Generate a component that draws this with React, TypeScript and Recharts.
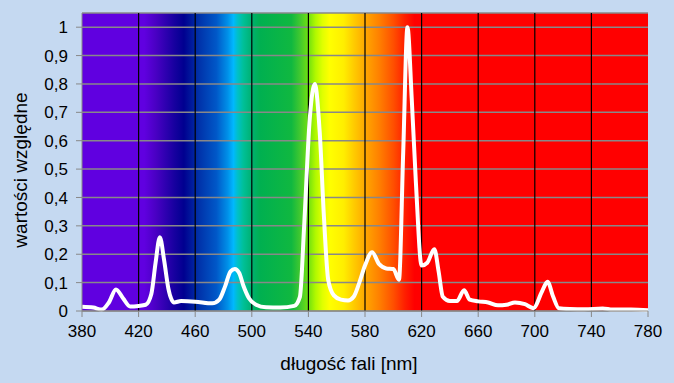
import { CartesianGrid, Line, LineChart, ReferenceLine, XAxis, YAxis } from "recharts";

const wavelengths = [
  380, 388, 394, 399, 404, 409, 414, 420, 425, 429, 432, 435, 438, 441, 445, 450, 460, 472, 477, 481,
  485, 488, 491, 494, 498, 503, 510, 520, 530, 534, 537, 541, 544.5, 548, 551, 554, 558, 563, 568, 572,
  576, 580, 585, 590, 595, 600, 604, 607, 610, 613, 616, 620, 624, 629, 632, 635, 640, 645, 650, 654,
  660, 667, 674, 680, 686, 693, 699, 705, 709, 713, 717, 725, 735, 748, 755, 768, 780,
];
const intensity = [
  0.015, 0.012, 0.005, 0.03, 0.076, 0.045, 0.016, 0.018, 0.022, 0.06, 0.17, 0.26, 0.18, 0.08, 0.03, 0.035,
  0.033, 0.027, 0.04, 0.085, 0.14, 0.148, 0.135, 0.09, 0.045, 0.022, 0.013, 0.012, 0.018, 0.05, 0.3, 0.68,
  0.8, 0.63, 0.33, 0.11, 0.055, 0.04, 0.037, 0.05, 0.1, 0.16, 0.207, 0.165, 0.15, 0.148, 0.11, 0.56, 1.0,
  0.75, 0.45, 0.16, 0.17, 0.218, 0.14, 0.05, 0.035, 0.035, 0.073, 0.04, 0.034, 0.03, 0.02, 0.022, 0.03,
  0.024, 0.01, 0.068, 0.103, 0.05, 0.01, 0.007, 0.006, 0.009, 0.005, 0.005, 0.003,
];
const xTicks = [380, 420, 460, 500, 540, 580, 620, 660, 700, 740, 780];
const yTicks = [0, 0.1, 0.2, 0.3, 0.4, 0.5, 0.6, 0.7, 0.8, 0.9, 1];
const gridX = [420, 460, 500, 540, 580, 620, 660, 700, 740];

// spectrum colours behind the plot, [nm, colour]
const spectrum: [number, string][] = [
  [380, "#6000e0"], [424, "#6000e0"], [432, "#4a00c4"], [445, "#1800a0"], [452, "#000090"],
  [462, "#0030a8"], [475, "#0058c8"], [483, "#0090e8"], [487, "#00b8ff"], [490, "#00c0c8"],
  [494, "#00c098"], [500, "#00b070"], [506, "#00b050"], [528, "#10b840"], [534, "#40c830"],
  [540, "#70e010"], [545, "#b0f800"], [550, "#e0ff00"], [555, "#ffff00"], [565, "#ffee00"],
  [572, "#ffcc00"], [580, "#ffa800"], [590, "#ff8000"], [600, "#ff5000"], [608, "#ff2000"],
  [615, "#ff0000"], [780, "#ff0000"],
];

const data = wavelengths.map((nm, i) => ({ nm, v: intensity[i] }));
const family = "Liberation Sans, Arial, sans-serif";
const tickFont = { fontFamily: family, fontSize: 17, fill: "#000" };

export default function App() {
  return (
    <div style={{ width: 674, height: 383, background: "#c5d9f1" }}>
      <style>{`body{margin:0}`}</style>
      <LineChart width={674} height={383} data={data} margin={{ top: 13, right: 26, left: 0, bottom: 0 }}>
        <defs>
          <linearGradient id="spec" x1="0" y1="0" x2="1" y2="0">
            {spectrum.map(([nm, c]) => (
              <stop key={nm} offset={(nm - 380) / 400} stopColor={c} />
            ))}
          </linearGradient>
        </defs>
        <CartesianGrid vertical={false} stroke="#888" strokeWidth={1.5} fill="url(#spec)" fillOpacity={1} />
        {gridX.map((x) => (
          <ReferenceLine key={x} x={x} stroke="#000" strokeWidth={1.2} />
        ))}
        <XAxis
          dataKey="nm"
          type="number"
          domain={[380, 780]}
          ticks={xTicks}
          height={72}
          stroke="#888"
          tickSize={6}
          tickMargin={8}
          tick={tickFont}
          label={{
            content: () => (
              <text x={349} y={370} textAnchor="middle" fontFamily={family} fontSize={19} fill="#000">
                długość fali [nm]
              </text>
            ),
          }}
        />
        <YAxis
          type="number"
          domain={[0, 1.05]}
          ticks={yTicks}
          width={82}
          stroke="#888"
          tickSize={6}
          tickMargin={8}
          tick={tickFont}
          tickFormatter={(v: number) => String(v).replace(".", ",")}
          label={{
            content: () => (
              <text x={27} y={170} transform="rotate(-90 27 170)" textAnchor="middle" fontFamily={family} fontSize={19} fill="#000">
                wartości względne
              </text>
            ),
          }}
        />
        <Line dataKey="v" type="monotone" stroke="#fff" strokeWidth={4} dot={false} isAnimationActive={false} />
      </LineChart>
    </div>
  );
}
